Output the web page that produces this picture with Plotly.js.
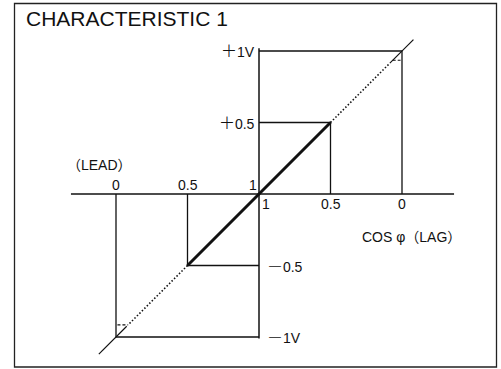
<!DOCTYPE html>
<html>
<head>
<meta charset="utf-8">
<script src="https://cdn.plot.ly/plotly-3.0.1.min.js"></script>
<style>
html,body{margin:0;padding:0;background:#fff;}
#chart{width:501px;height:369px;}
</style>
</head>
<body>
<div id="chart"></div>
<script>
// ---- data ----
const titleText = 'CHARACTERISTIC 1';
const leadCos = [0, 0.5];          // power factor (lead side)
const leadVolt = [-1, -0.5];       // output voltage (V)
const lagCos = [0.5, 0];           // power factor (lag side)
const lagVolt = [0.5, 1];          // output voltage (V)
const cosTickLead = [0, 0.5, 1];
const cosTickLeadLabels = ['0', '0.5', '1'];
const cosTickLag = [1, 0.5, 0];
const cosTickLagLabels = ['1', '0.5', '0'];
const voltTicks = [1, 0.5, -0.5, -1];
const voltSigns = ['+', '+', '\u2212', '\u2212'];
const voltTickLabels = ['1V', '0.5', '0.5', '1V'];
const thickSeg = [-0.5, 0.5];
const dottedSegs = [[0.5, 0.91], [-0.5, -0.91]];
const thinSegs = [[0.915, 1.08], [-0.925, -1.12]];
const hookX = [[0.935, 0.99], [-0.99, -0.915]];
const hookY = [0.935, -0.915];
const hAxisExtent = [-1.315, 1.364];
const vAxisExtent = [-1.01, 1.02];

// ---- geometry helpers ----
const ORX = 259, ORY = 194, SC = 143, W = 501, H = 369;
const lead = c => -(1 - c);
const lag = c => (1 - c);
const ink = '#111';

const traces = [];
function seg(xs, ys, width, dash) {
  traces.push({x: xs, y: ys, type: 'scatter', mode: 'lines', hoverinfo: 'skip',
    line: {color: ink, width: width, dash: dash || 'solid'}});
}
// axes
seg(hAxisExtent, [0, 0], 1.5);
seg([0, 0], vAxisExtent, 1.5);
// rectangles
leadCos.forEach((c, i) => seg([lead(c), lead(c), 0], [0, leadVolt[i], leadVolt[i]], 1.3));
lagCos.forEach((c, i) => seg([lag(c), lag(c), 0], [0, lagVolt[i], lagVolt[i]], 1.3));
// characteristic
seg(thickSeg, thickSeg, 3);
dottedSegs.forEach(s => seg(s, s, 1.6, '1.5px,2px'));
thinSegs.forEach(s => seg(s, s, 1.2));
hookX.forEach((s, i) => seg(s, [hookY[i], hookY[i]], 1.1, '3px,2px'));

const fam = 'Liberation Sans, Arial, Noto Sans CJK JP, sans-serif';
const f14 = {family: fam, size: 14, color: ink};
const ann = [];
function label(text, x, y, xa, xs, ys) {
  ann.push({text: text, x: x, y: y, xref: 'x', yref: 'y', showarrow: false,
    xanchor: xa, yanchor: 'middle', xshift: xs, yshift: ys, font: f14, borderpad: 0});
}
cosTickLead.forEach((c, i) => label(cosTickLeadLabels[i], lead(c), 0, 'center', c === 1 ? -6 : 0, 9));
cosTickLag.forEach((c, i) => label(cosTickLagLabels[i], lag(c), 0, 'center', c === 1 ? 7 : 0, -10));
voltTicks.forEach((v, i) => label(
  '<span style="font-family:DejaVu Sans;font-weight:200;font-size:19px">' + voltSigns[i] + '</span>' + voltTickLabels[i],
  0, v, v > 0 ? 'right' : 'left', v > 0 ? -3 : 7, 1));
label('（LEAD）', -1.112, 0.203, 'center', 0, 0);
label('COS \u03c6（LAG）', 1.065, -0.30, 'center', 0, 0);

const layout = {
  width: W, height: H, autosize: false,
  margin: {l: 0, r: 0, t: 0, b: 0, pad: 0},
  paper_bgcolor: '#fff', plot_bgcolor: '#fff',
  showlegend: false,
  title: {text: titleText, x: 26 / W, xanchor: 'left', xref: 'paper',
          y: 1 - 19 / H, yanchor: 'middle', yref: 'container',
          font: {family: fam, size: 21, color: ink}},
  xaxis: {visible: false, range: [-ORX / SC, (W - ORX) / SC], fixedrange: true},
  yaxis: {visible: false, range: [-(H - ORY) / SC, ORY / SC], fixedrange: true},
  annotations: ann,
  shapes: [{type: 'rect', xref: 'paper', yref: 'paper',
    x0: 14.5 / W, x1: 496.5 / W, y0: 1 - 367 / H, y1: 1 - 3.5 / H,
    line: {color: '#222', width: 1.3}, fillcolor: 'rgba(0,0,0,0)'}]
};
Plotly.newPlot('chart', traces, layout, {staticPlot: true, displayModeBar: false});
</script>
</body>
</html>
